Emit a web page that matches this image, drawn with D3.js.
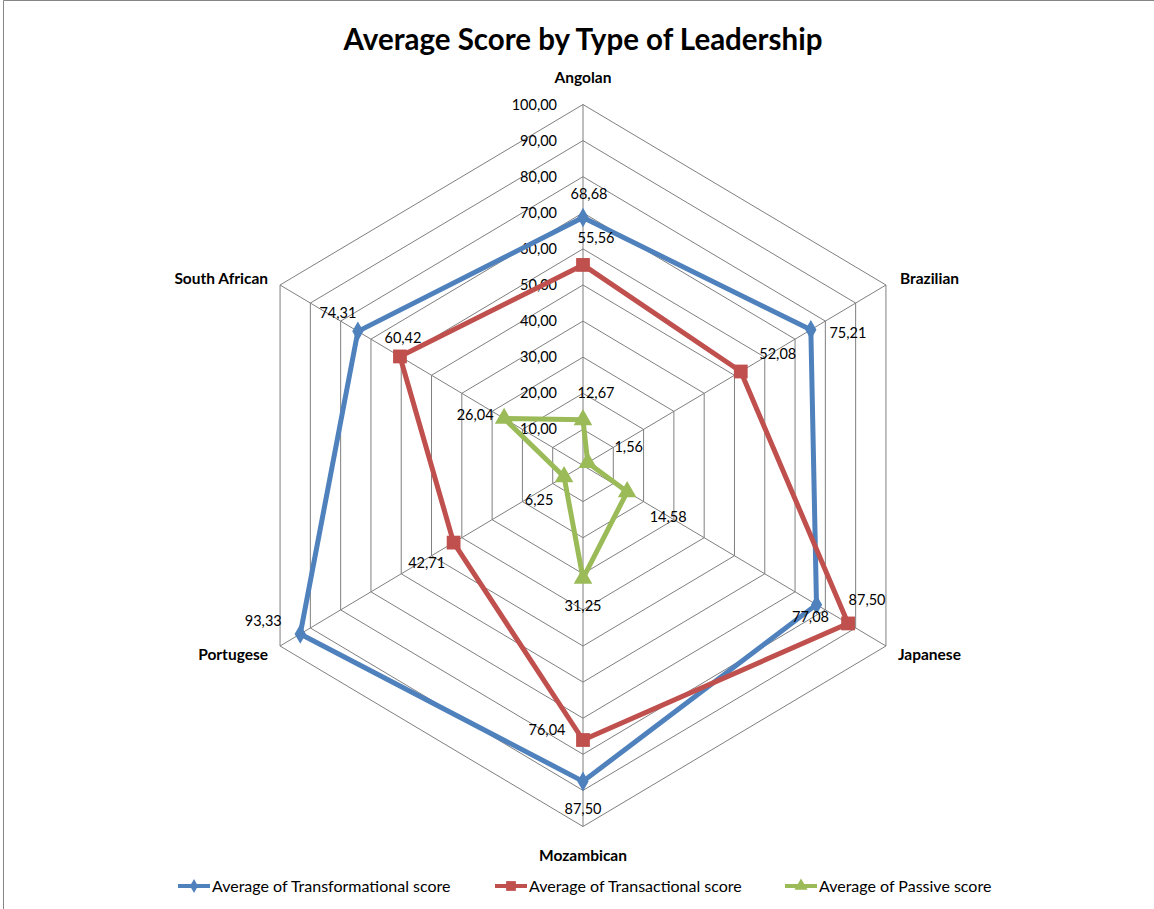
<!DOCTYPE html>
<html>
<head>
<meta charset="utf-8">
<script src="https://cdn.jsdelivr.net/npm/d3@7"></script>
<style>
  body { margin: 0; background: #fff; }
  svg { display: block; font-family: Lato, "Open Sans", sans-serif; }
</style>
</head>
<body>
<svg id="chart"></svg>
<script>
// data
const categories = ['Angolan', 'Brazilian', 'Japanese', 'Mozambican', 'Portugese', 'South African']
const transformational = [68.68, 75.21, 77.08, 87.50, 93.33, 74.31]
const transactional = [55.56, 52.08, 87.50, 76.04, 42.71, 60.42]
const passive = [12.67, 1.56, 14.58, 31.25, 6.25, 26.04]
const ticks = [0, 10, 20, 30, 40, 50, 60, 70, 80, 90, 100]
const seriesNames = ['Average of Transformational score', 'Average of Transactional score', 'Average of Passive score']

// label nudges (px) per point, like excel put them
const labelNudge = [
  [[6, -24], [37, 3], [-6, 12], [0, 28], [-37, -13], [-20, -18]],
  [[13, -27], [37, -18], [19, -24], [-36, -10], [-27, 20], [3, -19]],
  [[13, -27], [41, -16], [41, 25], [0, 28], [-25, 23], [-29, -4]]
]

const W = 1154, H = 909
const cx = 583, cy = 465.5
const kx = 0.969 // picture is a bit squeezed sideways

const svg = d3.select('#chart').attr('width', W).attr('height', H)

// outer frame (only top and left show)
svg.append('line').attr('x1', 3.5).attr('y1', 0.5).attr('x2', W).attr('y2', 0.5).attr('stroke', '#868686')
svg.append('line').attr('x1', 3.5).attr('y1', 0.5).attr('x2', 3.5).attr('y2', H).attr('stroke', '#868686')

const rScale = d3.scaleLinear().domain([0, 100]).range([0, 361])
const angle = d3.scaleLinear().domain([0, categories.length]).range([0, 2 * Math.PI])

const pt = (i, v) => {
  const a = angle(i)
  return [cx + rScale(v) * Math.sin(a) * kx, cy - rScale(v) * Math.cos(a)]
}

const fmt = v => v === 0 ? '-' : d3.format('.2f')(v).replace('.', ',')

// grid
const grid = svg.append('g')
ticks.filter(t => t > 0).forEach(t => {
  grid.append('path')
    .attr('d', d3.line()(categories.map((c, i) => pt(i, t))) + 'Z')
    .attr('fill', 'none')
    .attr('stroke', '#7f7f7f')
    .attr('stroke-width', 1)
})
categories.forEach((c, i) => {
  const [x, y] = pt(i, 100)
  grid.append('line')
    .attr('x1', cx).attr('y1', cy).attr('x2', x).attr('y2', y)
    .attr('stroke', '#7f7f7f')
})

// tick labels
svg.append('g').selectAll('text')
  .data(ticks).enter().append('text')
  .attr('x', 557)
  .attr('y', d => cy - rScale(d))
  .attr('dy', '0.35em')
  .attr('text-anchor', 'end')
  .attr('font-size', 14.5)
  .attr('fill', '#000')
  .text(fmt)

// category labels
const catPos = [
  { dx: 0, dy: -27, anchor: 'middle' },
  { dx: 14, dy: -6, anchor: 'start' },
  { dx: 12, dy: 9, anchor: 'start' },
  { dx: 0, dy: 29, anchor: 'middle' },
  { dx: -12, dy: 9, anchor: 'end' },
  { dx: -12, dy: -6, anchor: 'end' }
]
svg.append('g').selectAll('text')
  .data(categories).enter().append('text')
  .attr('x', (d, i) => pt(i, 100)[0] + catPos[i].dx)
  .attr('y', (d, i) => pt(i, 100)[1] + catPos[i].dy)
  .attr('dy', '0.35em')
  .attr('text-anchor', (d, i) => catPos[i].anchor)
  .attr('font-size', 15.5)
  .attr('font-weight', 'bold')
  .text(d => d)

// series
const series = [
  { name: seriesNames[0], values: transformational, color: '#4F81BD', marker: d3.symbolDiamond, size: 110 },
  { name: seriesNames[1], values: transactional, color: '#C0504D', marker: d3.symbolSquare, size: 190 },
  { name: seriesNames[2], values: passive, color: '#9BBB59', marker: d3.symbolTriangle, size: 150 }
]

series.forEach((s, si) => {
  const g = svg.append('g')
  const pts = s.values.map((v, i) => pt(i, v))
  g.append('path')
    .attr('d', d3.line()(pts) + 'Z')
    .attr('fill', 'none')
    .attr('stroke', s.color)
    .attr('stroke-width', 5)
    .attr('stroke-linejoin', 'round')
  g.selectAll('path.mk')
    .data(pts).enter().append('path')
    .attr('class', 'mk')
    .attr('transform', d => `translate(${d[0]},${d[1]})`)
    .attr('d', d3.symbol().type(s.marker).size(s.size))
    .attr('fill', s.color)
})

// data labels on top
series.forEach((s, si) => {
  svg.append('g').selectAll('text')
    .data(s.values).enter().append('text')
    .attr('x', (d, i) => pt(i, d)[0] + labelNudge[si][i][0])
    .attr('y', (d, i) => pt(i, d)[1] + labelNudge[si][i][1])
    .attr('dy', '0.35em')
    .attr('text-anchor', 'middle')
    .attr('font-size', 14.5)
    .text(fmt)
})

// title
svg.append('text')
  .attr('x', cx).attr('y', 50)
  .attr('text-anchor', 'middle')
  .attr('font-size', 29.5)
  .attr('font-weight', 'bold')
  .text('Average Score by Type of Leadership')

// legend
const legendX = [178, 495, 785]
const legend = svg.append('g')
series.forEach((s, si) => {
  const x0 = legendX[si], y0 = 886
  legend.append('line')
    .attr('x1', x0).attr('y1', y0).attr('x2', x0 + 32).attr('y2', y0)
    .attr('stroke', s.color).attr('stroke-width', 4)
  legend.append('path')
    .attr('transform', `translate(${x0 + 16},${y0})`)
    .attr('d', d3.symbol().type(s.marker).size(s.size * 0.5))
    .attr('fill', s.color)
  legend.append('text')
    .attr('x', x0 + 34).attr('y', y0)
    .attr('dy', '0.35em')
    .attr('font-size', 16)
    .text(s.name)
})
</script>
</body>
</html>
